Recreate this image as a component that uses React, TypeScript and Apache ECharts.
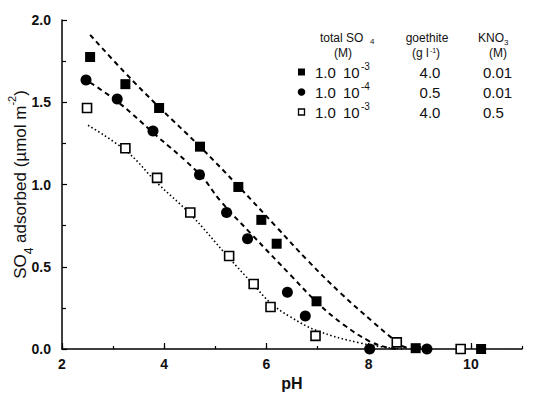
import React, { useEffect, useRef } from "react";
import * as echarts from "echarts";

// Measured points (pH, SO4 adsorbed µmol m-2)
const sqFilled: number[][] = [
  [2.55, 1.775], [3.24, 1.61], [3.9, 1.465], [4.7, 1.23], [5.45, 0.985],
  [5.9, 0.785], [6.2, 0.64], [6.98, 0.29], [8.92, 0.005], [10.2, 0.0],
];
const circFilled: number[][] = [
  [2.47, 1.635], [3.08, 1.52], [3.78, 1.325], [4.69, 1.06], [5.22, 0.83],
  [5.63, 0.67], [6.41, 0.345], [6.76, 0.2], [8.02, 0.0], [9.14, 0.0],
];
const sqOpen: number[][] = [
  [2.49, 1.465], [3.24, 1.22], [3.86, 1.04], [4.51, 0.83], [5.27, 0.565],
  [5.75, 0.395], [6.08, 0.255], [6.96, 0.08], [8.55, 0.04], [9.8, 0.0],
];

// Model curves
const curveUpper: number[][] = [
  [2.55, 1.91], [3.2, 1.69], [3.9, 1.47], [4.7, 1.23], [5.45, 0.99],
  [6.2, 0.74], [6.8, 0.54], [7.45, 0.34], [8.1, 0.16], [8.5, 0.055],
  [8.7, 0.012], [8.9, 0.0],
];
const curveMiddle: number[][] = [
  [2.55, 1.62], [3.1, 1.5], [3.8, 1.31], [4.7, 1.06], [5.1, 0.9],
  [5.7, 0.7], [6.5, 0.44], [7.0, 0.28], [7.5, 0.15], [8.0, 0.05],
  [8.35, 0.01], [8.6, 0.0],
];
const curveLower: number[][] = [
  [2.51, 1.36], [3.27, 1.2], [3.86, 1.01], [4.51, 0.82], [5.25, 0.56],
  [5.75, 0.39], [6.08, 0.28], [6.47, 0.195], [7.0, 0.11], [7.84, 0.036],
  [8.43, 0.006], [8.7, 0.0],
];

const xMajor = [2, 4, 6, 8, 10];

const legendRows = [
  { mant: "1.0", base: "10", exp: "-3", goethite: "4.0", kno3: "0.01" },
  { mant: "1.0", base: "10", exp: "-4", goethite: "0.5", kno3: "0.01" },
  { mant: "1.0", base: "10", exp: "-3", goethite: "4.0", kno3: "0.5" },
];

const FONT = "'Liberation Sans', Arial, Helvetica, sans-serif";
const INK = "#111";

export default function App() {
  const ref = useRef<HTMLDivElement>(null);
  useEffect(() => {
    if (!ref.current) return;
    const chart = echarts.init(ref.current, undefined, { renderer: "svg" });

    const rich = {
      a: { fontSize: 17, fontFamily: FONT, color: INK, lineHeight: 22, verticalAlign: "middle" },
      sub: { fontSize: 12, fontFamily: FONT, color: INK, lineHeight: 22, verticalAlign: "bottom", padding: [0, 0, -4, 0] },
      sup: { fontSize: 11, fontFamily: FONT, color: INK, lineHeight: 22, verticalAlign: "top", padding: [-3, 0, 0, 0] },
    };
    const txt = (text: string, x: number, y: number, size: number, align = "left") => ({
      type: "text", x, y,
      style: { text, fontSize: size, fontFamily: FONT, fill: INK, align, verticalAlign: "middle" },
    });

    const rowY = [72, 92, 112];
    const graphics: any[] = [
      txt("total SO", 320, 38, 12), txt("4", 370, 41, 8),
      txt("(M)", 343, 53, 12, "center"),
      txt("goethite", 427, 38, 12, "center"),
      txt("(g l", 412, 53, 12), txt("-1", 430, 50, 7), txt(")", 436, 53, 12),
      txt("KNO", 478, 38, 12), txt("3", 504, 42, 8),
      txt("(M)", 498, 53, 12, "center"),
    ];
    legendRows.forEach((r, i) => {
      const y = rowY[i];
      if (i === 0) {
        graphics.push({ type: "rect", shape: { x: 298, y: y - 3.5, width: 7, height: 7 }, style: { fill: "#000" } });
      } else if (i === 1) {
        graphics.push({ type: "circle", shape: { cx: 301.5, cy: y, r: 3.8 }, style: { fill: "#000" } });
      } else {
        graphics.push({ type: "rect", shape: { x: 298.5, y: y - 3, width: 6, height: 6 }, style: { fill: "#fff", stroke: "#000", lineWidth: 1.3 } });
      }
      graphics.push(txt(r.mant, 315, y, 15));
      graphics.push(txt(r.base, 343, y, 15));
      graphics.push(txt(r.exp, 361, y - 6, 10));
      graphics.push(txt(r.goethite, 430, y, 15, "center"));
      graphics.push(txt(r.kno3, 483, y, 15));
    });

    const axisLine = { show: true, lineStyle: { color: "#000", width: 1.5 } };
    const option: any = {
      animation: false,
      backgroundColor: "#fff",
      grid: { left: 62, right: 14, top: 20, bottom: 54, containLabel: false, outerBoundsMode: "none" },
      xAxis: [
        {
          type: "value", min: 2, max: 11, interval: 1,
          axisLine,
          axisTick: { show: true, inside: true, length: 3, lineStyle: { color: "#000", width: 1.2 } },
          axisLabel: { customValues: xMajor, fontSize: 14, fontFamily: FONT, color: INK, fontWeight: "bold", margin: 8 },
          splitLine: { show: false },
          name: "pH", nameLocation: "middle", nameGap: 26, nameMoveOverlap: false,
          nameTextStyle: { fontSize: 16, fontFamily: FONT, color: INK, fontWeight: "bold" },
        },
        {
          type: "value", min: 2, max: 11, interval: 1, position: "bottom",
          axisLine: { show: false },
          axisTick: { show: true, inside: true, length: 6, customValues: xMajor, lineStyle: { color: "#000", width: 1.2 } },
          axisLabel: { show: false },
          splitLine: { show: false },
        },
      ],
      yAxis: {
        type: "value", min: 0, max: 2, interval: 0.5,
        axisLine,
        axisTick: { show: true, inside: true, length: 5, lineStyle: { color: "#000", width: 1.2 } },
        minorTick: { show: true, splitNumber: 2, length: 4, lineStyle: { color: "#000", width: 1.2 } },
        axisLabel: { formatter: (v: number) => v.toFixed(1), fontSize: 14, fontFamily: FONT, color: INK, fontWeight: "bold", margin: 11 },
        splitLine: { show: false },
        name: "{a|SO}{sub|4}{a| adsorbed (µmol m}{sup|-2}{a|)}",
        nameLocation: "middle", nameGap: 31, nameRotate: 90, nameMoveOverlap: false,
        nameTextStyle: { color: INK, fontSize: 17, fontFamily: FONT, rich },
      },
      graphic: graphics,
      series: [
        { type: "line", data: curveUpper, smooth: 0.4, showSymbol: false, silent: true,
          lineStyle: { color: "#000", width: 2, type: [5, 4] } },
        { type: "line", data: curveMiddle, smooth: 0.4, showSymbol: false, silent: true,
          lineStyle: { color: "#000", width: 2, type: [5, 4] } },
        { type: "line", data: curveLower, smooth: 0.4, showSymbol: false, silent: true,
          lineStyle: { color: "#000", width: 1.6, type: [1.5, 2.5] } },
        { type: "scatter", data: sqFilled, symbol: "rect", symbolSize: 10, itemStyle: { color: "#000", opacity: 1 }, z: 5 },
        { type: "scatter", data: circFilled, symbol: "circle", symbolSize: 11, itemStyle: { color: "#000", opacity: 1 }, z: 5 },
        { type: "scatter", data: sqOpen, symbol: "rect", symbolSize: 9,
          itemStyle: { color: "#fff", borderColor: "#000", borderWidth: 1.6, opacity: 1 }, z: 5 },
      ],
    };
    chart.setOption(option);
    return () => chart.dispose();
  }, []);
  return <div ref={ref} style={{ position: "fixed", left: 0, top: 0, width: 536, height: 403 }} />;
}
